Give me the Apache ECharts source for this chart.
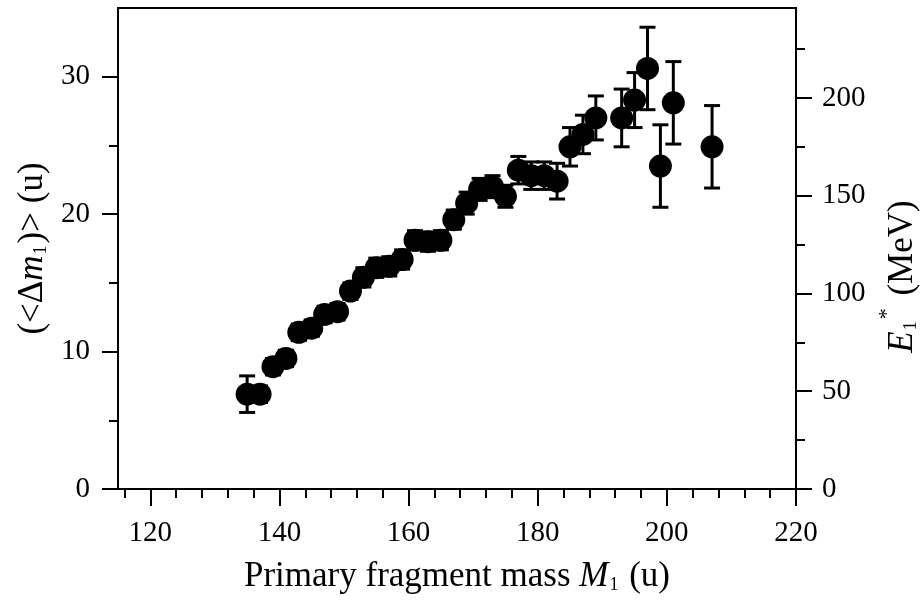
<!DOCTYPE html>
<html>
<head>
<meta charset="utf-8">
<script src="https://cdn.jsdelivr.net/npm/echarts@6/dist/echarts.min.js"></script>
<style>
html,body{margin:0;padding:0;background:#fff;}
#c{width:923px;height:600px;}
</style>
</head>
<body>
<div id="c"></div>
<script>
// Data
const mass = [135,137,139,141,143,145,147,149,151,153,155,157,159,161,163,165,167,169,171,173,175,177,179,181,183,185,187,189,193,195,197,199,201,207];
const dm   = [6.9,6.9,8.9,9.5,11.4,11.7,12.7,12.9,14.4,15.4,16.1,16.2,16.7,18.1,18.0,18.1,19.6,20.8,21.8,22.0,21.3,23.2,22.8,22.8,22.4,24.9,25.8,27.0,27.0,28.3,30.6,23.5,28.1,24.9];
const dmErr= [1.33,0.6,0.6,0.6,0.6,0.6,0.6,0.6,0.6,0.7,0.7,0.7,0.7,0.7,0.7,0.7,0.7,0.8,0.8,0.8,0.8,1.0,1.0,1.0,1.3,1.4,1.4,1.6,2.1,2.0,3.0,3.0,3.0,3.0];

// Axis ticks
const xMajor = [120,140,160,180,200,220];
const xMinor = [116,124,128,132,136,144,148,152,156,164,168,172,176,184,188,192,196,204,208,212,216];
const yMajor = [0,10,20,30];
const yMinor = [5,15,25];
const eMajor = [0,50,100,150,200];
const eMinor = [25,75,125,175,225];
const xRange = [115,220];
const yRange = [0,35];
const eRange = [0,246];

const FONT = 'Liberation Serif';
const black = '#000';

const points = mass.map((m,i)=>[m, dm[i], dmErr[i]]);

const nameRich = {
  n:{fontFamily:FONT,fontSize:35,color:black,verticalAlign:'bottom',lineHeight:38},
  i:{fontFamily:FONT,fontSize:35,fontStyle:'italic',color:black,verticalAlign:'bottom',lineHeight:38},
  s:{fontFamily:FONT,fontSize:18,color:black,verticalAlign:'bottom',lineHeight:14,padding:[0,2,0,1]},
  p:{fontFamily:FONT,fontSize:22,color:black,verticalAlign:'top',lineHeight:44,padding:[0,4,0,0]}
};

function majorAxisCommon(vals, len){
  return {
    axisLine:{show:true,lineStyle:{color:black,width:2}},
    axisTick:{show:true,inside:false,length:len,customValues:vals,lineStyle:{color:black,width:2}},
    splitLine:{show:false}
  };
}

const option = {
  animation:false,
  backgroundColor:'#fff',
  grid:{left:118,right:127,top:8,bottom:111,outerBoundsMode:'none',containLabel:false,show:true,borderColor:black,borderWidth:2,backgroundColor:'transparent'},
  xAxis:[
    Object.assign({
      type:'value',min:xRange[0],max:xRange[1],position:'bottom',
      axisLabel:{customValues:xMajor,fontFamily:FONT,fontSize:29,color:black,margin:30},
      name:'{n|Primary fragment mass }{i|M}{s|1}{n| (u)}',
      nameLocation:'middle',nameGap:67,
      nameTextStyle:{rich:nameRich}
    }, majorAxisCommon(xMajor,17)),
    {
      type:'value',min:xRange[0],max:xRange[1],position:'bottom',
      axisLine:{show:false},
      axisTick:{show:true,length:9,customValues:xMinor,lineStyle:{color:black,width:2}},
      axisLabel:{show:false},splitLine:{show:false}
    }
  ],
  yAxis:[
    Object.assign({
      type:'value',min:yRange[0],max:yRange[1],position:'left',
      axisLabel:{customValues:yMajor,fontFamily:FONT,fontSize:29,color:black,margin:28},
      name:'{n|(<Δ}{i|m}{s|1}{n|)> (u)}',
      nameLocation:'middle',nameGap:64,nameRotate:90,
      nameTextStyle:{rich:nameRich}
    }, majorAxisCommon(yMajor,16)),
    {
      type:'value',min:yRange[0],max:yRange[1],position:'left',
      axisLine:{show:false},
      axisTick:{show:true,length:9,customValues:yMinor,lineStyle:{color:black,width:2}},
      axisLabel:{show:false},splitLine:{show:false}
    },
    Object.assign({
      type:'value',min:eRange[0],max:eRange[1],position:'right',
      axisLabel:{customValues:eMajor,fontFamily:FONT,fontSize:29,color:black,margin:26},
      name:'{i|E}{s|1}{p|*}{n| (MeV)}',
      nameLocation:'middle',nameGap:80,nameRotate:90,
      nameTextStyle:{rich:nameRich,padding:[0,56,0,0]}
    }, majorAxisCommon(eMajor,16)),
    {
      type:'value',min:eRange[0],max:eRange[1],position:'right',
      axisLine:{show:false},
      axisTick:{show:true,length:9,customValues:eMinor,lineStyle:{color:black,width:2}},
      axisLabel:{show:false},splitLine:{show:false}
    }
  ],
  series:[
    {
      type:'custom',xAxisIndex:0,yAxisIndex:0,
      data:points,
      renderItem:function(params,api){
        const x=api.value(0), y=api.value(1), e=api.value(2);
        const t=api.coord([x,y+e]), b=api.coord([x,y-e]);
        const hw=8;
        const st={stroke:black,lineWidth:3};
        return {type:'group',children:[
          {type:'line',shape:{x1:t[0],y1:t[1],x2:b[0],y2:b[1]},style:st},
          {type:'line',shape:{x1:t[0]-hw,y1:t[1],x2:t[0]+hw,y2:t[1]},style:st},
          {type:'line',shape:{x1:b[0]-hw,y1:b[1],x2:b[0]+hw,y2:b[1]},style:st}
        ]};
      },
      z:2
    },
    {
      type:'scatter',xAxisIndex:0,yAxisIndex:0,
      data:points.map(p=>[p[0],p[1]]),
      symbol:'circle',symbolSize:23,
      itemStyle:{color:black,opacity:1},
      z:3
    }
  ]
};

const chart = echarts.init(document.getElementById('c'),null,{renderer:'canvas'});
chart.setOption(option);
</script>
</body>
</html>
